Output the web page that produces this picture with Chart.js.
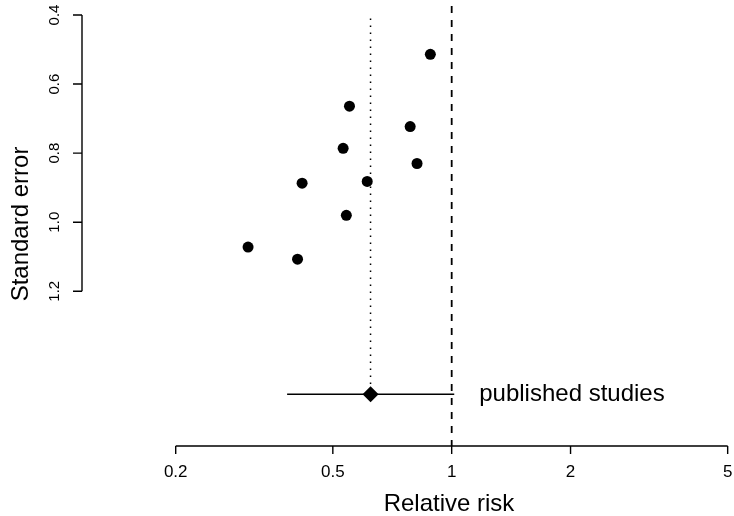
<!DOCTYPE html>
<html>
<head>
<meta charset="utf-8">
<script src="https://cdn.jsdelivr.net/npm/chart.js@4.4.1/dist/chart.umd.min.js"></script>
<style>
  html, body { margin: 0; padding: 0; background: #fff; overflow: hidden; }
  #funnel { display: block; }
</style>
</head>
<body>
<canvas id="funnel" width="734" height="516"></canvas>
<script>
// Study estimates (relative risk) and their standard errors
const relRisk = [0.883, 0.551, 0.785, 0.531, 0.817, 0.418, 0.611, 0.541, 0.305, 0.407];
const stdErr  = [0.514, 0.664, 0.723, 0.786, 0.830, 0.887, 0.882, 0.980, 1.072, 1.107];

// Pooled estimate with confidence interval
const pooledRR = [0.623];
const pooledCI = [0.383, 1.015];
const pooledRow = [1.498];
const pooledLabel = 'published studies';

// Axes
const xTicks = [0.2, 0.5, 1, 2, 5];
const yTicks = [0.4, 0.6, 0.8, 1.0, 1.2];
const xRange = [0.1158, 5.188];
const yRange = [0.374, 1.648];
const nullRR = 1;

const FONT = '"Liberation Sans", Arial, Helvetica, sans-serif';

// Draws the R-style axes (lines only over the tick range) and the labels
const axesPlugin = {
  id: 'rAxes',
  afterDraw(chart) {
    const { ctx, chartArea, scales } = chart;
    const xs = scales.x, ys = scales.y;
    ctx.save();
    ctx.strokeStyle = '#000';
    ctx.fillStyle = '#000';
    ctx.lineWidth = 1.4;

    // x axis
    const yBase = chartArea.bottom;
    ctx.beginPath();
    ctx.moveTo(xs.getPixelForValue(xTicks[0]), yBase);
    ctx.lineTo(xs.getPixelForValue(xTicks[xTicks.length - 1]), yBase);
    xTicks.forEach(v => {
      const px = xs.getPixelForValue(v);
      ctx.moveTo(px, yBase);
      ctx.lineTo(px, yBase + 8);
    });
    ctx.stroke();
    ctx.font = '17px ' + FONT;
    ctx.textAlign = 'center';
    ctx.textBaseline = 'middle';
    xTicks.forEach(v => ctx.fillText(String(v), xs.getPixelForValue(v), yBase + 26));

    // y axis
    const xBase = chartArea.left;
    ctx.beginPath();
    ctx.moveTo(xBase, ys.getPixelForValue(yTicks[0]));
    ctx.lineTo(xBase, ys.getPixelForValue(yTicks[yTicks.length - 1]));
    yTicks.forEach(v => {
      const py = ys.getPixelForValue(v);
      ctx.moveTo(xBase, py);
      ctx.lineTo(xBase - 9, py);
    });
    ctx.stroke();
    ctx.font = '15px ' + FONT;
    yTicks.forEach(v => {
      ctx.save();
      ctx.translate(xBase - 27, ys.getPixelForValue(v));
      ctx.rotate(-Math.PI / 2);
      ctx.fillText(v.toFixed(1), 0, 0);
      ctx.restore();
    });

    // axis titles
    ctx.font = '24px ' + FONT;
    ctx.fillText('Relative risk', 449, 504);
    ctx.save();
    ctx.translate(21, 224);
    ctx.rotate(-Math.PI / 2);
    ctx.fillText('Standard error', 0, 0);
    ctx.restore();

    // label next to pooled estimate
    ctx.textAlign = 'left';
    ctx.fillText(pooledLabel, xs.getPixelForValue(pooledCI[1]) + 25, ys.getPixelForValue(pooledRow[0]));
    ctx.restore();
  }
};

const studyPoints = relRisk.map((x, i) => ({ x: x, y: stdErr[i] }));

new Chart(document.getElementById('funnel'), {
  type: 'scatter',
  data: {
    datasets: [
      {
        label: 'Studies',
        data: studyPoints,
        pointRadius: 5.5,
        pointHoverRadius: 5.5,
        backgroundColor: '#000',
        borderWidth: 0
      },
      {
        label: 'Pooled',
        data: [{ x: pooledRR[0], y: pooledRow[0] }],
        pointStyle: 'rectRot',
        pointRadius: 8,
        pointHoverRadius: 8,
        backgroundColor: '#000',
        borderWidth: 0
      },
      {
        label: 'Pooled CI',
        data: [{ x: pooledCI[0], y: pooledRow[0] }, { x: pooledCI[1], y: pooledRow[0] }],
        showLine: true,
        pointRadius: 0,
        pointHoverRadius: 0,
        borderColor: '#000',
        borderWidth: 1.5
      },
      {
        label: 'Pooled line',
        data: [{ x: pooledRR[0], y: 0.41 }, { x: pooledRR[0], y: pooledRow[0] }],
        showLine: true,
        pointRadius: 0,
        pointHoverRadius: 0,
        borderColor: '#000',
        borderWidth: 1.5,
        borderDash: [1.5, 5.5]
      },
      {
        label: 'Null line',
        data: [{ x: nullRR, y: yRange[0] }, { x: nullRR, y: yRange[1] }],
        showLine: true,
        pointRadius: 0,
        pointHoverRadius: 0,
        borderColor: '#000',
        borderWidth: 1.8,
        borderDash: [7, 7]
      }
    ]
  },
  options: {
    responsive: false,
    animation: false,
    devicePixelRatio: 1,
    layout: { autoPadding: false, padding: { left: 82, top: 6, right: 0, bottom: 70 } },
    plugins: {
      legend: { display: false },
      tooltip: { enabled: false }
    },
    scales: {
      x: {
        type: 'logarithmic',
        display: false,
        bounds: 'data',
        min: xRange[0],
        max: xRange[1]
      },
      y: {
        type: 'linear',
        display: false,
        reverse: true,
        min: yRange[0],
        max: yRange[1]
      }
    }
  },
  plugins: [axesPlugin]
});
</script>
</body>
</html>
